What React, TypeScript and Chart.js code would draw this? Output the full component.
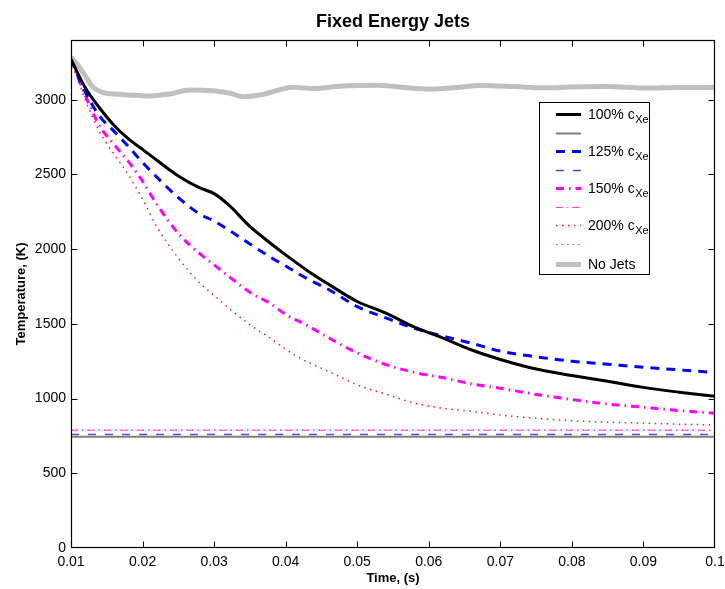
import React, { useEffect, useRef } from "react";
import { Chart, registerables } from "chart.js";

Chart.register(...registerables);

// ---- data ----
const time = [0.01, 0.012, 0.014, 0.016, 0.018, 0.02, 0.022, 0.025, 0.028, 0.03, 0.032, 0.035, 0.038, 0.04, 0.043, 0.046, 0.05, 0.054, 0.058, 0.062, 0.066, 0.07, 0.075, 0.08, 0.085, 0.09, 0.095, 0.1];
const temp100 = [3270, 3080, 2945, 2830, 2740, 2668, 2595, 2490, 2410, 2372, 2298, 2152, 2035, 1962, 1858, 1765, 1650, 1572, 1478, 1405, 1325, 1262, 1198, 1155, 1116, 1075, 1043, 1015];
const temp125 = [3270, 3050, 2890, 2790, 2688, 2580, 2482, 2345, 2235, 2188, 2130, 2035, 1943, 1887, 1803, 1730, 1616, 1540, 1470, 1418, 1370, 1318, 1280, 1250, 1230, 1210, 1192, 1175];
const temp150 = [3270, 3030, 2825, 2702, 2588, 2455, 2300, 2105, 1970, 1895, 1820, 1712, 1632, 1563, 1490, 1407, 1306, 1228, 1175, 1140, 1098, 1069, 1028, 994, 964, 942, 920, 902];
const temp200 = [3270, 3000, 2785, 2635, 2500, 2335, 2150, 1940, 1773, 1690, 1607, 1495, 1400, 1330, 1246, 1182, 1092, 1030, 970, 935, 915, 890, 868, 852, 842, 836, 829, 823];
const noJetsTime = [0.01, 0.011, 0.012, 0.013, 0.0145, 0.016, 0.018, 0.021, 0.0238, 0.0266, 0.0298, 0.0322, 0.034, 0.0364, 0.0387, 0.041, 0.0438, 0.048, 0.0528, 0.0574, 0.06, 0.0644, 0.067, 0.072, 0.076, 0.08, 0.085, 0.09, 0.095, 0.1];
const noJetsTemp = [3285, 3230, 3160, 3088, 3048, 3038, 3032, 3025, 3039, 3066, 3061, 3044, 3021, 3032, 3061, 3084, 3075, 3092, 3097, 3078, 3072, 3084, 3095, 3088, 3080, 3085, 3088, 3078, 3082, 3083];
const refTime = [0.01, 0.1];
const ref100 = [745, 745];
const ref125 = [759, 759];
const ref150 = [788, 788];
const ref200 = [790, 790];
const xTicks = [0.01, 0.02, 0.03, 0.04, 0.05, 0.06, 0.07, 0.08, 0.09, 0.1];
const yTicks = [0, 500, 1000, 1500, 2000, 2500, 3000];
const legendNames = ["100% c", "", "125% c", "", "150% c", "", "200% c", "", "No Jets"];
const legendSubs = ["Xe", "", "Xe", "", "Xe", "", "Xe", "", ""];

const FONT = "'Liberation Sans', Arial, Helvetica, sans-serif";

type Sty = { color: string; width: number; dash: number[] };
const styles: Sty[] = [
  { color: "#000000", width: 3, dash: [] },
  { color: "#808080", width: 2, dash: [] },
  { color: "#0000ff", width: 3, dash: [9, 7] },
  { color: "#4d4dff", width: 1.5, dash: [8, 9] },
  { color: "#ff00ff", width: 3, dash: [8, 5, 1.5, 5] },
  { color: "#ff33ff", width: 1.2, dash: [7, 4, 1.5, 4] },
  { color: "#ff1a1a", width: 1.5, dash: [1.5, 4.5] },
  { color: "#ff4d4d", width: 1, dash: [1.5, 4] },
  { color: "#c0c0c0", width: 5, dash: [] },
];

const pts = (xs: number[], ys: number[]) => xs.map((x, i) => ({ x, y: ys[i] }));

const seriesData = [
  pts(time, temp100),
  pts(refTime, ref100),
  pts(time, temp125),
  pts(refTime, ref125),
  pts(time, temp150),
  pts(refTime, ref150),
  pts(time, temp200),
  pts(refTime, ref200),
  pts(noJetsTime, noJetsTemp),
];

const decorPlugin = {
  id: "decor",
  afterDraw(chart: any) {
    const { ctx, chartArea: a, scales } = chart;
    const xs = scales.x;
    const ys = scales.y;
    ctx.save();
    // frame
    ctx.strokeStyle = "#000";
    ctx.lineWidth = 1.2;
    ctx.setLineDash([]);
    const L = Math.round(a.left) + 0.5;
    const R = Math.round(a.right) - 0.5;
    const T = Math.round(a.top) + 0.5;
    const B = Math.round(a.bottom) - 0.5;
    ctx.strokeRect(L, T, R - L, B - T);
    // ticks (inward, mirrored)
    const tl = 6;
    ctx.lineWidth = 1;
    ctx.beginPath();
    xTicks.forEach((v) => {
      const p = Math.round(xs.getPixelForValue(v)) + 0.5;
      if (p <= L + 1 || p >= R - 1) return;
      ctx.moveTo(p, B);
      ctx.lineTo(p, B - tl);
      ctx.moveTo(p, T);
      ctx.lineTo(p, T + tl);
    });
    yTicks.forEach((v) => {
      const p = Math.round(ys.getPixelForValue(v)) + 0.5;
      if (p >= B - 1 || p <= T + 1) return;
      ctx.moveTo(L, p);
      ctx.lineTo(L + tl, p);
      ctx.moveTo(R, p);
      ctx.lineTo(R - tl, p);
    });
    ctx.stroke();

    // title
    ctx.fillStyle = "#000";
    ctx.textAlign = "center";
    ctx.textBaseline = "alphabetic";
    const cx = (a.left + a.right) / 2;
    ctx.font = `bold 18px ${FONT}`;
    ctx.fillText("Fixed Energy Jets", cx, 26.5);
    // axis titles
    ctx.font = `bold 13px ${FONT}`;
    ctx.fillText("Time, (s)", cx, 582);
    ctx.save();
    ctx.translate(25, (a.top + a.bottom) / 2);
    ctx.rotate(-Math.PI / 2);
    ctx.fillText("Temperature, (K)", 0, 0);
    ctx.restore();

    // legend
    const bx = 539.5, by = 102.5, bw = 110, bh = 172;
    ctx.fillStyle = "#fff";
    ctx.fillRect(bx, by, bw, bh);
    ctx.strokeStyle = "#000";
    ctx.lineWidth = 1;
    ctx.strokeRect(bx, by, bw, bh);
    const rowY = [114, 133, 151, 170, 188, 207, 225, 244, 264];
    rowY.forEach((y, i) => {
      const s = styles[i];
      ctx.save();
      ctx.beginPath();
      ctx.strokeStyle = s.color;
      ctx.lineWidth = s.width;
      ctx.setLineDash(s.dash);
      ctx.moveTo(556, y + 0.5);
      ctx.lineTo(581, y + 0.5);
      ctx.stroke();
      ctx.restore();
      if (legendNames[i]) {
        ctx.fillStyle = "#000";
        ctx.textAlign = "left";
        ctx.textBaseline = "alphabetic";
        ctx.font = `14px ${FONT}`;
        const base = y + 5;
        ctx.fillText(legendNames[i], 588, base);
        if (legendSubs[i]) {
          const w = ctx.measureText(legendNames[i]).width;
          ctx.font = `11px ${FONT}`;
          ctx.fillText(legendSubs[i], 588 + w + 0.5, base + 4);
        }
      }
    });
    ctx.restore();
  },
};

export default function App() {
  const ref = useRef<HTMLCanvasElement | null>(null);
  useEffect(() => {
    if (!ref.current) return;
    Chart.defaults.font.family = FONT;
    const chart = new Chart(ref.current, {
      type: "line",
      data: {
        datasets: seriesData.map((d, i) => ({
          data: d,
          borderColor: styles[i].color,
          borderWidth: styles[i].width,
          borderDash: styles[i].dash,
          borderCapStyle: "butt",
          pointRadius: 0,
          fill: false,
          cubicInterpolationMode: "monotone",
          tension: 0.4,
        })),
      },
      options: {
        animation: false,
        responsive: false,
        events: [],
        layout: { padding: { top: 40, right: 10, left: 0, bottom: 0 } },
        plugins: {
          legend: { display: false },
          tooltip: { enabled: false },
          title: { display: false },
        },
        scales: {
          x: {
            type: "linear",
            min: 0.01,
            max: 0.1,
            afterBuildTicks: (s: any) => {
              s.ticks = xTicks.map((v) => ({ value: v }));
            },
            afterFit: (s: any) => {
              s.height = 41;
              s.paddingLeft = 0;
              s.paddingRight = 0;
            },
            grid: { display: false, drawTicks: false },
            border: { display: false },
            ticks: {
              color: "#000",
              padding: 6,
              maxRotation: 0,
              autoSkip: false,
              font: { size: 14, family: FONT },
              callback: (v: any) => String(Number(Number(v).toFixed(2))),
            },
          },
          y: {
            type: "linear",
            min: 0,
            max: 3400,
            afterBuildTicks: (s: any) => {
              s.ticks = yTicks.map((v) => ({ value: v }));
            },
            afterFit: (s: any) => {
              s.width = 71;
              s.paddingTop = 0;
              s.paddingBottom = 0;
            },
            grid: { display: false, drawTicks: false },
            border: { display: false },
            ticks: {
              color: "#000",
              padding: 5,
              autoSkip: false,
              font: { size: 14, family: FONT },
              callback: (v: any) => String(v),
            },
          },
        },
      },
      plugins: [decorPlugin],
    } as any);
    return () => chart.destroy();
  }, []);
  return (
    <div style={{ position: "fixed", left: 0, top: 0, width: 725, height: 589, background: "#fff" }}>
      <canvas ref={ref} width={725} height={589} style={{ display: "block" }} />
    </div>
  );
}
